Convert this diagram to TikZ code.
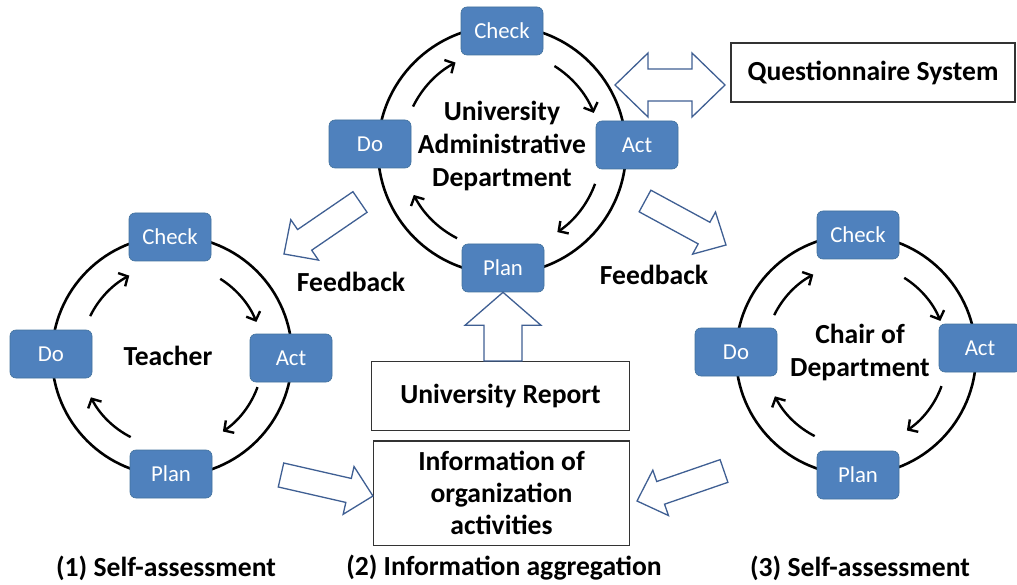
\documentclass[tikz,border=0pt]{standalone}
\usepackage{fontspec}
\setmainfont{Carlito}
\usetikzlibrary{arrows.meta,calc}
\definecolor{boxblue}{HTML}{4F81BD}
\definecolor{boxedge}{HTML}{41719C}
\definecolor{arrblue}{HTML}{3F5F93}
% block (hollow) arrow: tail, tip, shaft half width, head half width, head length
\newcommand\blockarr[5]{%
  \coordinate (bH) at ($(#2)!#5!(#1)$);
  \draw[hollow] ($(#1)!#3!90:(#2)$) -- ($(bH)!#3!90:(#2)$) -- ($(bH)!#4!90:(#2)$) -- (#2)
     -- ($(bH)!#4!-90:(#2)$) -- ($(bH)!#3!-90:(#2)$) -- ($(#1)!#3!-90:(#2)$) -- cycle;}
\newcommand\cyclearrows[2]{%
  \foreach \a in {-154,-58,20,117}{\draw[cyc] ($(#1)+(\a:#2)$) arc[start angle=\a, delta angle=36, radius=#2];}}
\begin{document}
\begin{tikzpicture}[x=1pt,y=-1pt,
  pbox/.style={draw=boxedge, fill=boxblue, rounded corners=6pt, minimum width=82pt, minimum height=48pt,
    text=white, font=\fontsize{22.8}{26}\selectfont, line width=0.6pt},
  ring/.style={line width=2.6pt},
  cyc/.style={line width=2.4pt, -{Straight Barb[length=7pt,width=15pt]}},
  hollow/.style={draw=arrblue, line width=1.3pt, fill=white, line join=miter},
  tbox/.style={draw=black!80, line width=1.5pt, fill=white, inner sep=0pt},
  lbl/.style={font=\bfseries\fontsize{27.6}{33}\selectfont, align=center, inner sep=0pt},
]
\useasboundingbox (0,0) rectangle (1017,585);

% ---------- top cycle ----------
\coordinate (tc) at (502,150);
\draw[ring] (tc) circle[radius=124];
\node[pbox] (tcheck) at (502,31) {Check};
\node[pbox] (tact) at (637,145) {Act};
\node[pbox] (tplan) at (503,268) {Plan};
\node[pbox] (tdo) at (370,144) {Do};
\cyclearrows{tc}{99}
\node[lbl] (tlabel) at (502,146) {University\\Administrative\\Department};

% ---------- left cycle ----------
\coordinate (lc) at (172,356);
\draw[ring] (lc) circle[radius=120];
\node[pbox] (lcheck) at (170,237) {Check};
\node[pbox] (lact) at (291,358) {Act};
\node[pbox] (lplan) at (171,474) {Plan};
\node[pbox] (ldo) at (51,354) {Do};
\cyclearrows{lc}{91}
\node[lbl] (llabel) at (168,356) {Teacher};

% ---------- right cycle ----------
\coordinate (rc) at (856,355);
\draw[ring] (rc) circle[radius=120];
\node[pbox] (rcheck) at (858,235) {Check};
\node[pbox] (ract) at (980,348) {Act};
\node[pbox] (rplan) at (858,475) {Plan};
\node[pbox] (rdo) at (736,352) {Do};
\cyclearrows{rc}{91}
\node[lbl] (rlabel) at (860,352) {Chair of\\Department};

% ---------- text boxes ----------
\node[tbox, minimum width=284pt, minimum height=59pt, font=\bfseries\fontsize{27.6}{32}\selectfont] (quest) at (873,72.5) {Questionnaire System};
\node[tbox, minimum width=257.6pt, minimum height=69pt, font=\bfseries\fontsize{27.6}{32}\selectfont] (report) at (500.5,396.2) {University Report};
\node[tbox, minimum width=255.6pt, minimum height=104.7pt, align=center, font=\bfseries\fontsize{27.6}{32}\selectfont] (info) at (501.5,493.3) {Information of\\organization\\activities};

% ---------- feedback labels ----------
\node[lbl] (fbl) at (351,282) {Feedback};
\node[lbl] (fbr) at (654,275) {Feedback};

% ---------- hollow arrows ----------
\coordinate (a1t) at (360,202); \coordinate (a1p) at (284,254);
\blockarr{a1t}{a1p}{12.5pt}{24.5pt}{25pt}
\coordinate (a2t) at (645,201); \coordinate (a2p) at (726,245);
\blockarr{a2t}{a2p}{12.3pt}{24pt}{25pt}
\coordinate (a3t) at (report.north -| tplan.south); \coordinate (a3p) at (tplan.south);
\blockarr{a3t}{a3p}{19pt}{38pt}{33pt}
\coordinate (a4t) at (281,475); \coordinate (a4p) at (info.west |- 0,496);
\blockarr{a4t}{a4p}{12.3pt}{24.5pt}{25pt}
\coordinate (a5t) at (724,471); \coordinate (a5p) at (637,501);
\blockarr{a5t}{a5p}{12pt}{24pt}{25pt}
% double arrow
\draw[hollow] (615,85) -- (648,53) -- (648,69) -- (692,69) -- (692,53) -- (725,85)
  -- (692,117) -- (692,101) -- (648,101) -- (648,117) -- cycle;

% ---------- bottom captions ----------
\node[lbl] (cap1) at (166,568) {(1) Self-assessment};
\node[lbl] (cap2) at (504,568) {(2) Information aggregation};
\node[lbl] (cap3) at (860,568) {(3) Self-assessment};
\end{tikzpicture}
\end{document}
